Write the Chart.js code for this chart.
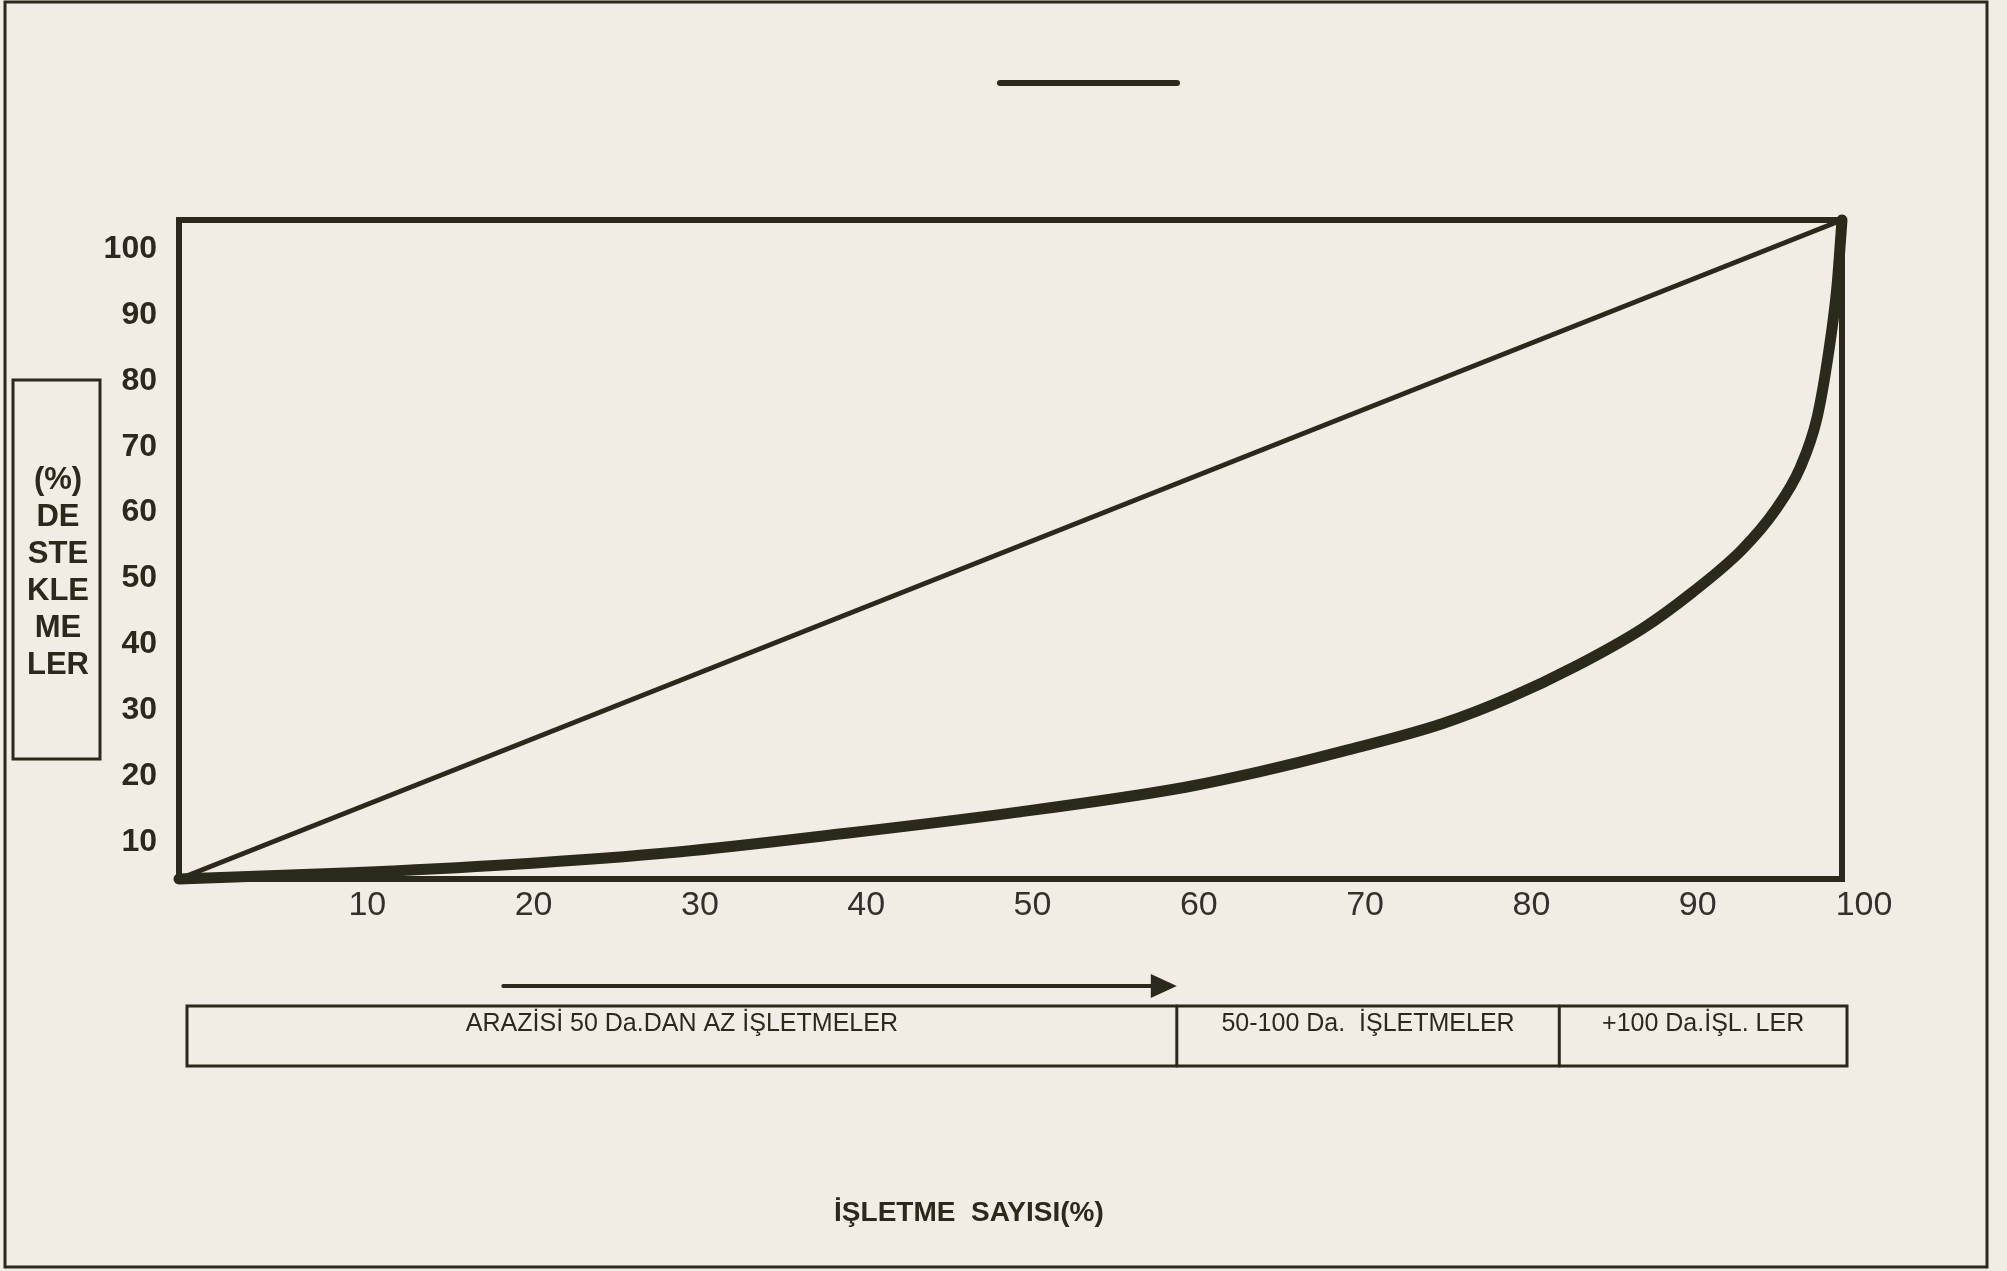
<!DOCTYPE html>
<html>
<head>
<meta charset="utf-8">
<script src="https://cdn.jsdelivr.net/npm/chart.js@4.4.1/dist/chart.umd.min.js"></script>
<style>
  html, body { margin: 0; padding: 0; background: #f2ede4; }
  #wrap { position: absolute; left: 0; top: 0; width: 2007px; height: 1271px; }
</style>
</head>
<body>
<div id="wrap"><canvas id="grafico"></canvas></div>
<script>
// işletme sayısı (%) ve arazi (%) - Lorenz eğrisi
const isletmePay = [0, 10, 20, 30, 40, 50, 60, 65, 70, 76, 80, 84, 88, 91, 94, 96, 97.5, 98.5, 99.2, 99.7, 100];
const araziPay   = [0, 0.9, 2.2, 4.1, 6.9, 10, 13.7, 16.3, 19.4, 23.6, 27.5, 32.3, 38, 43.5, 50, 56, 62.5, 70, 80, 90, 100];
const esitX = [0, 100];
const esitY = [0, 100];

const xTicks = [10, 20, 30, 40, 50, 60, 70, 80, 90, 100];
const yTicks = [10, 20, 30, 40, 50, 60, 70, 80, 90, 100];

const gruplar = ['ARAZİSİ 50 Da.DAN AZ İŞLETMELER', '50-100 Da.  İŞLETMELER', '+100 Da.İŞL. LER'];
const grupSinir = [0, 60, 83, 100];
const okBas = 19.5, okSon = 60;

const yBaslik = ['(%)', 'DE', 'STE', 'KLE', 'ME', 'LER'];
const xBaslik = 'İŞLETME  SAYISI(%)';

const renk = '#2b281c';

let ekler = {
  id: 'ekler',
  afterDraw(chart) {
    let c = chart.ctx, a = chart.chartArea, x = chart.scales.x;
    c.save();
    c.strokeStyle = renk;
    c.fillStyle = renk;
    c.lineCap = 'round';

    // dış çerçeve
    c.lineWidth = 3;
    c.strokeRect(5, 2, 1982, 1265);

    // üstteki kısa çizgi
    c.lineWidth = 6;
    c.beginPath(); c.moveTo(1000, 83); c.lineTo(1177, 83); c.stroke();

    // grafik kutusu
    c.lineWidth = 6;
    c.strokeRect(a.left, a.top, a.right - a.left, a.bottom - a.top);

    // sol başlık kutusu
    c.lineWidth = 3;
    c.strokeRect(13, 380, 87, 379);
    c.font = 'bold 31px "Liberation Sans", Arial, sans-serif';
    c.textAlign = 'center';
    c.textBaseline = 'middle';
    yBaslik.forEach((t, i) => c.fillText(t, 58, 480 + i * 37));

    // ok
    let x1 = x.getPixelForValue(okBas), x2 = x.getPixelForValue(okSon);
    c.lineWidth = 4;
    c.beginPath(); c.moveTo(x1, 986); c.lineTo(x2 - 20, 986); c.stroke();
    c.beginPath(); c.moveTo(x2, 986); c.lineTo(x2 - 26, 974); c.lineTo(x2 - 26, 998); c.closePath(); c.fill();

    // grup kutuları
    let g0 = x.getPixelForValue(grupSinir[0]) + 8;
    let gN = x.getPixelForValue(grupSinir[grupSinir.length - 1]) + 5;
    c.lineWidth = 3;
    c.strokeRect(g0, 1006, gN - g0, 60);
    c.font = '25px "Liberation Sans", Arial, sans-serif';
    for (let i = 0; i < gruplar.length; i++) {
      let l = i === 0 ? g0 : x.getPixelForValue(grupSinir[i]);
      let r = i === gruplar.length - 1 ? gN : x.getPixelForValue(grupSinir[i + 1]);
      if (i > 0) { c.beginPath(); c.moveTo(l, 1006); c.lineTo(l, 1066); c.stroke(); }
      c.fillText(gruplar[i], (l + r) / 2, 1024);
    }

    // x başlık
    c.font = 'bold 28px "Liberation Sans", Arial, sans-serif';
    c.fillText(xBaslik, x.getPixelForValue(47.5), 1213);
    c.restore();
  }
};

let ctx = document.getElementById('grafico');
let chart = new Chart(ctx, {
  type: 'line',
  data: {
    datasets: [
      {
        data: isletmePay.map((v, i) => ({ x: v, y: araziPay[i] })),
        borderColor: renk, borderWidth: 11, pointRadius: 0,
        cubicInterpolationMode: 'monotone', borderCapStyle: 'round', clip: false
      },
      {
        data: esitX.map((v, i) => ({ x: v, y: esitY[i] })),
        borderColor: renk, borderWidth: 5, pointRadius: 0, clip: false
      }
    ]
  },
  options: {
    responsive: true,
    maintainAspectRatio: false,
    animation: false,
    layout: { padding: { left: 0, top: 220, right: 165, bottom: 332 } },
    plugins: { legend: { display: false }, tooltip: { enabled: false } },
    scales: {
      x: {
        type: 'linear', min: 0, max: 100,
        afterBuildTicks: s => { s.ticks = xTicks.map(v => ({ value: v })); },
        afterFit: s => { s.height = 60; },
        grid: { display: false, drawTicks: false },
        border: { display: false },
        ticks: {
          padding: 6, labelOffset: 22, maxRotation: 0, autoSkip: false, color: '#34312a',
          font: { family: '"Liberation Sans", Arial, sans-serif', size: 34 }
        }
      },
      y: {
        type: 'linear', min: 0, max: 100,
        afterBuildTicks: s => { s.ticks = yTicks.map(v => ({ value: v })); },
        afterFit: s => { s.width = 179; },
        grid: { display: false, drawTicks: false },
        border: { display: false },
        ticks: {
          padding: 22, labelOffset: 29, autoSkip: false, color: renk,
          font: { family: '"Liberation Sans", Arial, sans-serif', size: 32, weight: 'bold' }
        }
      }
    }
  },
  plugins: [ekler]
});
</script>
</body>
</html>
